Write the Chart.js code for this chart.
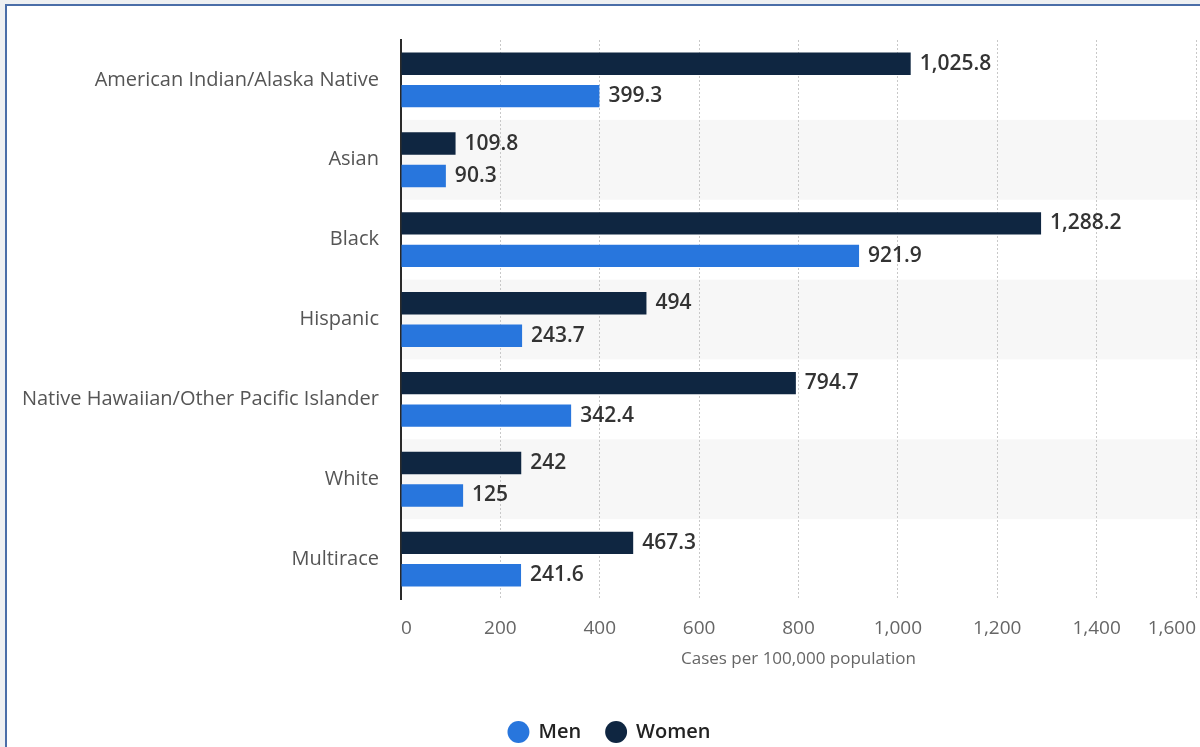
<!DOCTYPE html>
<html>
<head>
<meta charset="utf-8">
<title>Cases per 100,000 population by race and sex</title>
<script src="https://cdn.jsdelivr.net/npm/chart.js@4.4.1/dist/chart.umd.min.js"></script>
<style>
  html, body { margin: 0; padding: 0; overflow: hidden; background: #eef0f2; }
  #frame {
    position: absolute; left: 5px; top: 4px; width: 1260px; height: 800px;
    background: #fff; border-left: 2px solid #4a6ea8; border-top: 2px solid #4a6ea8;
  }
  #chart { position: absolute; left: 0; top: 0; }
</style>
</head>
<body>
<div id="frame"><canvas id="chart" width="1220" height="756"></canvas></div>
<script>
// Groups shown on the y axis, top to bottom
const groups = [
  'American Indian/Alaska Native',
  'Asian',
  'Black',
  'Hispanic',
  'Native Hawaiian/Other Pacific Islander',
  'White',
  'Multirace'
];

// Cases per 100,000 population
const women = [1025.8, 109.8, 1288.2, 494, 794.7, 242, 467.3];
const men = [399.3, 90.3, 921.9, 243.7, 342.4, 125, 241.6];

// Value axis ticks
const xTicks = [0, 200, 400, 600, 800, 1000, 1200, 1400, 1600];

const FONT = '"Open Sans", "Noto Sans", sans-serif';

// Light grey band behind every second group
const rowBands = {
  id: 'rowBands',
  beforeDraw(chart) {
    const { ctx, scales: { x, y } } = chart;
    ctx.save();
    ctx.fillStyle = '#f7f7f7';
    groups.forEach((g, i) => {
      if (i % 2 === 0) return;
      const top = y.getPixelForValue(i - 0.5);
      const bottom = y.getPixelForValue(i + 0.5);
      ctx.fillRect(x.left, top, chart.width - x.left, bottom - top);
    });
    ctx.restore();
  }
};

// Value printed at the end of each bar
const barValues = {
  id: 'barValues',
  afterDatasetsDraw(chart) {
    const { ctx } = chart;
    ctx.save();
    ctx.font = '600 21px ' + FONT;
    ctx.fillStyle = '#333';
    ctx.textAlign = 'left';
    ctx.textBaseline = 'middle';
    chart.data.datasets.forEach((ds, di) => {
      chart.getDatasetMeta(di).data.forEach((bar, i) => {
        ctx.fillText(ds.data[i].toLocaleString('en-US'), bar.x + 9, bar.y);
      });
    });
    ctx.restore();
  }
};

const ctx = document.getElementById('chart').getContext('2d');
new Chart(ctx, {
  type: 'bar',
  data: {
    labels: groups,
    datasets: [
      { label: 'Women', data: women, backgroundColor: '#0f2641', borderWidth: 0 },
      { label: 'Men', data: men, backgroundColor: '#2876dd', borderWidth: 0 }
    ]
  },
  options: {
    indexAxis: 'y',
    responsive: false,
    animation: false,
    categoryPercentage: 0.8125,
    barPercentage: 0.69,
    layout: { padding: { top: 33, right: 31, bottom: 10, left: 16 } },
    plugins: {
      tooltip: { enabled: false },
      legend: {
        position: 'bottom',
        reverse: true,
        labels: {
          usePointStyle: true,
          pointStyle: 'circle',
          boxWidth: 20,
          boxHeight: 15.5,
          padding: 25,
          color: '#222',
          font: { family: FONT, size: 20, weight: '600' }
        }
      }
    },
    scales: {
      x: {
        min: 0,
        max: 1600,
        afterBuildTicks: (scale) => { scale.ticks = xTicks.map(v => ({ value: v })); },
        afterFit: (scale) => { scale.height = 98; },
        grid: { color: '#c8c8c8', drawTicks: false },
        border: { display: false, dash: [2, 2] },
        ticks: {
          align: 'inner',
          padding: 18,
          color: '#666',
          font: { family: FONT, size: 19 },
          callback: (v) => v.toLocaleString('en-US')
        },
        title: {
          display: true,
          text: 'Cases per 100,000 population',
          color: '#666',
          font: { family: FONT, size: 17 },
          padding: { top: 12, bottom: 28 }
        }
      },
      y: {
        afterFit: (scale) => { scale.width = 378; },
        grid: { display: false, drawTicks: false },
        border: { color: '#2a2a2a', width: 2 },
        ticks: {
          padding: 22,
          color: '#555',
          font: { family: FONT, size: 20 }
        }
      }
    }
  },
  plugins: [rowBands, barValues]
});
</script>
</body>
</html>
